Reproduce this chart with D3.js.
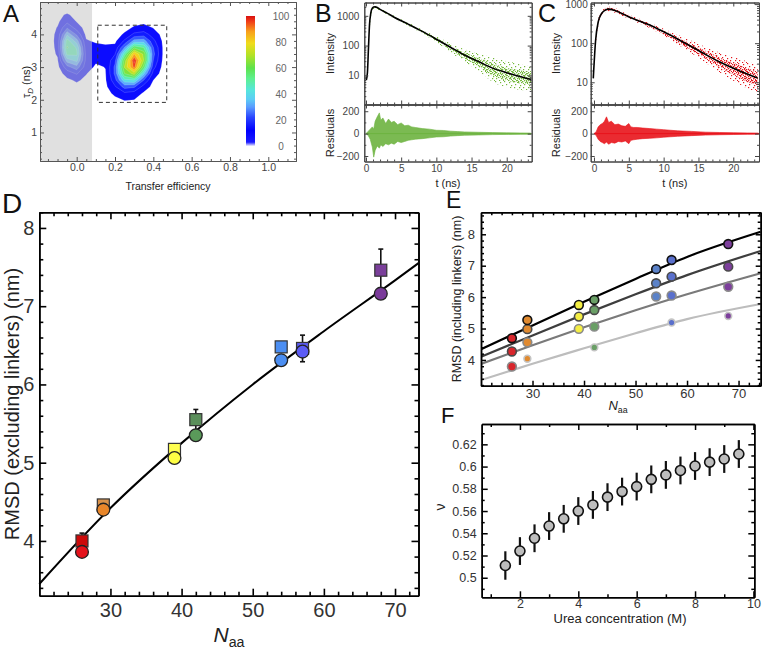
<!DOCTYPE html>
<html><head><meta charset="utf-8">
<script src="https://cdn.jsdelivr.net/npm/d3@7/dist/d3.min.js"></script>
<style>html,body{margin:0;padding:0;background:#fff;}svg{display:block;}</style>
</head><body>
<svg id="fig" width="762" height="650" xmlns="http://www.w3.org/2000/svg"></svg>
<script>
const FONT = "'Liberation Sans', Arial, Helvetica, sans-serif";

// ===================== DATA =====================
// Panel A: 2D histogram (transfer efficiency vs donor lifetime)
const aEcols = [-0.20,-0.15,-0.10,-0.05,0.00,0.05,0.10,0.15,0.20,0.25,0.30,0.35,0.40,0.45,0.50,0.55,0.60];
const aTauRows = [4.8,4.6,4.4,4.2,4.0,3.8,3.6,3.4,3.2,3.0,2.8,2.6,2.4,2.2,2.0,1.8,1.6];
const aGrid = [
 [0,0,0,0,0,0,0,0,0,0,0,0,0,0,0,0,0],
 [0,0,2.0,5.0,1.5,0,0,0,0,0,0.3,0.5,0.3,0,0,0,0],
 [0,0,2.5,9.5,3.5,0.2,0,0,0,0.5,1.4,2.1,1.4,0.3,0,0,0],
 [0,0,4.5,19.2,8.6,0.7,0,0,0.2,1.6,5.0,6.5,3.8,0.8,0,0,0],
 [0,0,6.0,34.2,18.6,1.9,0,0,0.8,5.2,14.0,16.1,8.2,1.8,0,0,0],
 [0,0,6.5,48.2,32.0,4.8,3.0,2.0,2.5,13.5,31.0,32.0,14.2,2.8,0.2,0,0],
 [0,0,6.0,53.2,42.9,6.7,6.0,5.6,6.1,28.4,57.8,51.5,20.2,3.4,0.3,0,0],
 [0,0,5.0,46.3,45.6,8.6,6.0,5.2,11.6,47.5,84.6,66.0,22.5,3.4,0.3,0,0],
 [0,0,3.0,31.7,38.0,8.8,5.0,5.2,17.8,63.4,99.0,67.7,19.8,2.7,0,0,0],
 [0,0,1.5,17.1,24.9,7.0,3.0,4.2,22.0,69.0,94.4,56.5,14.8,1.7,0,0,0],
 [0,0,0.5,7.2,12.8,4.4,0.2,3.5,21.8,59.7,71.6,37.6,8.7,0.9,0,0,0],
 [0,0,0,2.4,5.2,2.2,0,3.1,17.2,41.3,43.4,20.0,4.0,0.4,0,0,0],
 [0,0,0,0.3,1.7,0.3,0,2.3,11.1,23.4,21.6,8.7,1.5,0,0,0,0],
 [0,0,0,0,0,0,0,1.3,5.7,10.5,8.5,3.0,0.5,0,0,0,0],
 [0,0,0,0,0,0,0,0.3,2.3,4.5,4.0,0.8,0,0,0,0,0],
 [0,0,0,0,0,0,0,0,0.2,1.2,1.5,0.3,0,0,0,0,0],
 [0,0,0,0,0,0,0,0,0,0,0,0,0,0,0,0,0]
];
const aLevels = [4,12,20,28,36,44,52,60,68,76,84,92,97];
const aXTicks = [0,0.2,0.4,0.6,0.8,1.0];
const aYTicks = [1,2,3,4];
const aCbTicks = [0,20,40,60,80,100];
const aShadeMax = 0.08;
const aBox = [0.11,0.47,1.92,4.28];
const cmapVals = [0,3,12,22,30,36,43,52,60,70,79,88,96,100];
const cmapCols = ["#f2f0ff","#1a1aff","#0000ff","#2a45ff","#5a9cff","#5ccdf5","#56e6dc","#5ef08e","#5ee24c","#b4e226","#f0dc1c","#f8a01c","#f03a18","#d81010"];

// Panel B: decay (green)
const bFitT = [0.05,0.2,0.35,0.5,0.7,0.9,1.1,1.3,1.6,2,3,4,6,8,10,12,14,16,18,20,22,23.5];
const bFitI = [7,12,80,500,1300,1800,1980,2000,1900,1650,1230,900,525,300,164,88,48,29,17.5,12.3,9,7.3];
const bEnvT  = [0.5,0.9,1.3,2,3,4,6,8,10,12,14,16,18,20,22,23.5];
const bEnvHi = [500,1950,2250,1800,1370,1000,600,350,205,120,75,55,40,30,24,20];
const bEnvLo = [300,1450,1800,1450,1100,800,460,255,128,60,28,14,6,4,3.2,3];
const bResT  = [0,0.3,0.6,0.9,1.1,1.3,1.6,1.9,2.1,2.4,2.8,3.2,3.6,4.0,4.5,5.0,5.5,6,6.5,7,8,9,10,11,12,13,14,16,18,20,22,23.4];
const bResHi = [0,20,40,60,40,110,150,185,120,140,90,130,100,110,80,95,70,75,60,55,45,40,30,28,22,18,15,12,9,7,6,5];
const bResLo = [0,-15,-50,-120,-210,-150,-110,-130,-100,-115,-90,-100,-85,-95,-70,-80,-70,-60,-55,-50,-45,-38,-30,-28,-22,-18,-15,-12,-9,-7,-6,-5];

// Panel C: decay (red)
const cFitT = [-0.1,0.24,0.62,1.0,1.34,2.05,3,4,4.9,6,8.3,10.7,13.1,15.5,17.9,20.5,23.5];
const cFitI = [12.6,121,357,540,647,745,690,575,480,400,277,170,100,58,34,21,12.8];
const cEnvT  = [0.3,0.7,1.2,2,3,4,6,8,10,12,14,16,18,20,22,23.5];
const cEnvHi = [200,480,700,860,790,650,455,335,235,165,115,80,58,45,34,28];
const cEnvLo = [100,330,530,650,600,505,350,245,155,92,55,32,18,11,7,5.5];
const cResT  = [0,0.3,0.6,0.9,1.2,1.5,1.8,2.1,2.5,3,3.5,4,4.5,5,5.3,5.7,6.2,7,8,9,10,11,12,14,16,18,20,22,23.6];
const cResHi = [0,15,60,80,90,110,150,100,110,80,85,70,65,90,60,55,55,50,45,40,35,30,25,20,13,10,8,6,5];
const cResLo = [0,-15,-50,-70,-80,-90,-75,-95,-80,-85,-70,-75,-65,-90,-60,-55,-50,-45,-42,-38,-32,-28,-24,-18,-13,-10,-8,-6,-5];

// Panel D
const dN = [26,29,39,42,54,57,68];
const dSquare = [4.00,4.46,5.17,5.55,6.48,6.46,7.46];
const dErr    = [0.10,0.05,0.03,0.13,0.04,0.17,0.27];
const dCircle = [3.86,4.40,5.06,5.35,6.31,6.42,7.16];
const dSqCol  = ["#cc0a0a","#d9924a","#ffff50","#5b8f5b","#4b8ef2","#5a5af0","#7a3f9a"];
const dCiCol  = ["#e5121b","#e8862a","#ffff44","#5a9a5a","#4b8ef2","#5c5cf5","#7a3a9a"];
const dFitN = [20,30,40,50,60,70,73.3];
const dFitR = [3.45,4.42,5.25,6.00,6.68,7.33,7.55];

// Panel E
const eN = [26,29,39,42,54,57,68];
const eCol = ["#d8262c","#e08a30","#f4ee44","#6a9f66","#5b82c8","#5a70cc","#7d3f9c"];
const eS1 = [4.69,5.27,5.75,5.91,6.89,7.18,7.69];
const eS2 = [4.27,4.98,5.38,5.59,6.44,6.65,6.97];
const eS3 = [3.79,4.56,4.99,5.06,6.02,6.05,6.33];
const eS4 = [null,4.04,null,4.40,null,5.19,5.40];
const eLineN = [20,30,40,50,60,74.3];
const eL1 = [4.34,5.10,5.85,6.58,7.28,8.08];
const eL2 = [4.10,4.78,5.45,6.09,6.70,7.47];
const eL3 = [3.87,4.47,5.04,5.58,6.09,6.76];
const eL4 = [3.36,3.88,4.37,4.85,5.30,5.78];

// Panel F
const fUrea = [1.5,2,2.5,3,3.5,4,4.5,5,5.5,6,6.5,7,7.5,8,8.5,9,9.5];
const fNu   = [0.511,0.524,0.5355,0.5465,0.553,0.560,0.5655,0.5725,0.5775,0.582,0.5885,0.5925,0.5965,0.6005,0.604,0.6068,0.6113];
const fErr  = [0.0128,0.0125,0.0125,0.0125,0.0125,0.0125,0.0125,0.0125,0.0125,0.0125,0.0125,0.0125,0.0125,0.0125,0.0125,0.0125,0.0125];

// ===================== HELPERS =====================
const svg = d3.select("#fig");
const defs = svg.append("defs");

function axes(g, x, y, o) {
  const [xl, xr] = x.range(), [yb, yt] = y.range();
  const stroke = o.stroke || "#000", sw = o.sw || 1;
  const style = sel => {
    sel.select(".domain").attr("stroke", stroke).attr("stroke-width", sw);
    sel.selectAll(".tick line").attr("stroke", stroke).attr("stroke-width", o.tw || sw);
    sel.selectAll(".tick text").attr("font-family", FONT).attr("font-size", o.fs).attr("fill", o.tc || "#333");
  };
  const sides = [
    [d3.axisBottom, x, 0, yb, o.xMaj, o.xMin, o.xFmt, o.xPad, o.bottomLabels !== false],
    [d3.axisTop, x, 0, yt, o.xMaj, o.xMin, null, 0, false],
    [d3.axisLeft, y, xl, 0, o.yMaj, o.yMin, o.yFmt, o.yPad, true],
    [d3.axisRight, y, xr, 0, o.yMaj, o.yMin, null, 0, false]
  ];
  for (const [fn, s, tx, ty, maj, min, fmt, pad, lab] of sides) {
    if (min && min.length) g.append("g").attr("transform", `translate(${tx},${ty})`)
      .call(fn(s).tickValues(min).tickSize(-o.minLen).tickSizeOuter(0).tickFormat("")).call(style);
    g.append("g").attr("transform", `translate(${tx},${ty})`)
      .call(fn(s).tickValues(maj).tickSize(-o.majLen).tickSizeOuter(0).tickPadding(pad || 3).tickFormat(lab ? fmt : "")).call(style);
  }
}
function txt(g, x, y, s, size, opt = {}) {
  const t = g.append("text").attr("x", x).attr("y", y).attr("font-family", FONT).attr("font-size", size)
    .attr("fill", opt.fill || "#222").attr("text-anchor", opt.anchor || "start").text(s);
  if (opt.rotate) t.attr("transform", `rotate(-90,${x},${y})`);
  if (opt.italic) t.attr("font-style", "italic");
  return t;
}
function naaLabel(g, x, y, size) {
  const t = g.append("text").attr("x", x).attr("y", y).attr("font-family", FONT).attr("font-size", size)
    .attr("fill", "#222").attr("text-anchor", "middle");
  t.append("tspan").attr("font-style", "italic").text("N");
  t.append("tspan").attr("font-size", size * 0.68).attr("dy", size * 0.25).text("aa");
}
function dotPattern(id, color, size, pts, d) {
  const p = defs.append("pattern").attr("id", id).attr("patternUnits", "userSpaceOnUse").attr("width", size).attr("height", size);
  pts.forEach(([a, b]) => p.append("rect").attr("x", a).attr("y", b).attr("width", d).attr("height", d).attr("fill", color));
}
const range = (a, b, s) => d3.range(a, b + s / 2, s).map(v => +v.toFixed(6));

// ===================== PANEL A =====================
(function () {
  const g = svg.append("g");
  const x = d3.scaleLinear([-0.1915, 1.1446], [40, 296]);
  const y = d3.scaleLinear([0.128, 4.99], [161, 2]);
  const cmap = d3.scaleLinear(cmapVals, cmapCols).clamp(true);
  defs.append("clipPath").attr("id", "clipA").append("rect").attr("x", 40).attr("y", 2).attr("width", 256).attr("height", 159);
  const nx = aEcols.length, ny = aTauRows.length;
  const dE = aEcols[1] - aEcols[0], dT = aTauRows[0] - aTauRows[1];
  const cs = d3.contours().size([nx, ny]).thresholds(aLevels)(aGrid.flat());
  const toPath = mp => mp.coordinates.map(poly => poly.map(ring =>
      "M" + ring.map(([px, py]) => [x(aEcols[0] + (px - 0.5) * dE).toFixed(2), y(aTauRows[0] - (py - 0.5) * dT).toFixed(2)].join(",")).join("L") + "Z").join("")).join("");
  const cg = g.append("g").attr("clip-path", "url(#clipA)");
  cg.selectAll("path").data(cs).join("path").attr("d", toPath)
    .attr("fill", d => cmap(d.value + 4)).attr("stroke", "rgba(255,255,255,0.35)").attr("stroke-width", 0.5);
  g.append("rect").attr("x", 40).attr("y", 2).attr("width", x(aShadeMax) - 40).attr("height", 159)
    .attr("fill", "#c6c6c6").attr("fill-opacity", 0.54);
  g.append("rect").attr("x", x(aBox[0])).attr("y", y(aBox[3])).attr("width", x(aBox[1]) - x(aBox[0]))
    .attr("height", y(aBox[2]) - y(aBox[3])).attr("fill", "none").attr("stroke", "#333").attr("stroke-width", 1).attr("stroke-dasharray", "4,3");
  const cbY = d3.scaleLinear([0, 100], [146, 16]);
  const grad = defs.append("linearGradient").attr("id", "cbgrad").attr("x1", 0).attr("y1", 1).attr("x2", 0).attr("y2", 0);
  cmapVals.forEach((v, i) => grad.append("stop").attr("offset", v / 100).attr("stop-color", cmapCols[i]));
  g.append("rect").attr("x", 246).attr("y", cbY(100)).attr("width", 9).attr("height", cbY(0) - cbY(100)).attr("fill", "url(#cbgrad)");
  aCbTicks.forEach(v => txt(g, 281, cbY(v) + 3.5, String(v), 10, { anchor: "middle", fill: "#666" }));
  axes(g, x, y, { xMaj: aXTicks, xMin: range(-0.15, 1.1, 0.05).filter(v => Math.abs(Math.round(v * 5) - v * 5) > 1e-6),
    yMaj: aYTicks, yMin: range(0.2, 4.8, 0.2).filter(v => Math.abs(v - Math.round(v)) > 1e-6),
    xFmt: d3.format(".1f"), yFmt: d3.format("d"), majLen: 4, minLen: 2, fs: 10.5, xPad: 3, yPad: 3,
    stroke: "#555", sw: 1, tc: "#444" });
  txt(g, 168, 190, "Transfer efficiency", 10.5, { anchor: "middle" });
  const yl = g.append("text").attr("x", 30).attr("y", 82).attr("font-family", FONT).attr("font-size", 11).attr("fill", "#222")
    .attr("text-anchor", "middle").attr("transform", "rotate(-90,30,82)");
  yl.append("tspan").text("\u03C4");
  yl.append("tspan").attr("font-size", 8).attr("font-style", "italic").attr("dy", 3).text("D");
  yl.append("tspan").attr("dy", -3).text(" (ns)");
  txt(g, 3, 22, "A", 24, { fill: "#111" });
})();

// ===================== PANELS B & C =====================
function decayPanel(o) {
  const g = svg.append("g");
  const x = d3.scaleLinear(o.xDom, [o.x0, o.x1]);
  const yI = d3.scaleLog(o.iDom, [o.yMid, o.yTop]);
  const yR = d3.scaleLinear([-249, 260], [o.yBot, o.yMid]);
  const cid = "clip" + o.id;
  defs.append("clipPath").attr("id", cid).append("rect").attr("x", o.x0).attr("y", o.yTop).attr("width", o.x1 - o.x0).attr("height", o.yMid - o.yTop);
  dotPattern(o.id + "s", o.dot, 9, [[0,0],[5,1],[2,3],[7,4],[1,6],[6,6],[4,8],[8,8]], 1.2);
  dotPattern(o.id + "d", o.dot, 4, [[0,0],[2,1],[1,2],[3,3]], 1.3);
  const env = o.envT.map((t, i) => ({ t, hi: o.envHi[i], lo: o.envLo[i] }));
  const inner = env.map(d => ({ t: d.t, hi: Math.pow(d.hi, 0.75) * Math.pow(d.lo, 0.25), lo: Math.pow(d.hi, 0.25) * Math.pow(d.lo, 0.75) }));
  const area = d3.area().x(d => x(d.t)).y0(d => yI(d.lo)).y1(d => yI(d.hi)).curve(d3.curveMonotoneX);
  const pg = g.append("g").attr("clip-path", `url(#${cid})`);
  pg.append("path").datum(env).attr("d", area).attr("fill", `url(#${o.id}s)`);
  pg.append("path").datum(inner).attr("d", area).attr("fill", `url(#${o.id}d)`);
  pg.append("path").datum(o.fitT.map((t, i) => [t, o.fitI[i]]))
    .attr("d", d3.line().x(d => x(d[0])).y(d => yI(d[1])).curve(d3.curveMonotoneX))
    .attr("fill", "none").attr("stroke", "#000").attr("stroke-width", 1.6);
  const res = o.resT.map((t, i) => ({ t, hi: o.resHi[i], lo: o.resLo[i] }));
  g.append("path").datum(res).attr("d", d3.area().x(d => x(d.t)).y0(d => yR(d.lo)).y1(d => yR(d.hi)))
    .attr("fill", o.res).attr("fill-opacity", 0.9).attr("stroke", o.res).attr("stroke-width", 0.6);
  g.append("line").attr("x1", x(o.resT[0])).attr("x2", o.x1).attr("y1", yR(0)).attr("y2", yR(0)).attr("stroke", o.res).attr("stroke-width", 1);
  const xMin = range(1, 23, 1).filter(v => v % 5 !== 0);
  const logMin = [];
  [1, 10, 100, 1000].forEach(b => [2, 3, 4, 5, 6, 7, 8, 9].forEach(k => { const v = k * b; if (v > o.iDom[0] && v < o.iDom[1]) logMin.push(v); }));
  const common = { xMaj: [0, 5, 10, 15, 20], xMin, majLen: 4, minLen: 2, fs: 10, stroke: "#444", sw: 1, tc: "#444" };
  axes(g, x, yI, Object.assign({}, common, { bottomLabels: false, yMaj: [10, 100, 1000], yMin: logMin, yFmt: d3.format("d"), yPad: o.yPad }));
  axes(g, x, yR, Object.assign({}, common, { yMaj: [-200, 0, 200], yMin: [-100, 100], yFmt: d3.format("d"), yPad: o.yPad, xFmt: d3.format("d"), xPad: 3 }));
  txt(g, o.labX, (o.yTop + o.yMid) / 2, "Intensity", 11, { anchor: "middle", rotate: true });
  txt(g, o.labX, (o.yMid + o.yBot) / 2, "Residuals", 11, { anchor: "middle", rotate: true });
  txt(g, (o.x0 + o.x1) / 2, 187, "t (ns)", 11, { anchor: "middle" });
  txt(g, o.letterX, 22, o.letter, 25, { fill: "#111" });
}
decayPanel({ id: "B", letter: "B", letterX: 315, x0: 364.3, x1: 531.7, xDom: [-0.24, 23.55], yTop: 2.5, yMid: 104.5, yBot: 161.5,
  iDom: [1.05, 2800], fitT: bFitT, fitI: bFitI, envT: bEnvT, envHi: bEnvHi, envLo: bEnvLo,
  resT: bResT, resHi: bResHi, resLo: bResLo, dot: "#74b83c", res: "#6db33f", labX: 334, yPad: 5 });
decayPanel({ id: "C", letter: "C", letterX: 538, x0: 590.7, x1: 759, xDom: [-0.47, 23.69], yTop: 2.5, yMid: 104.5, yBot: 161.5,
  iDom: [2.7, 1100], fitT: cFitT, fitI: cFitI, envT: cEnvT, envHi: cEnvHi, envLo: cEnvLo,
  resT: cResT, resHi: cResHi, resLo: cResLo, dot: "#e2161c", res: "#e8141b", labX: 560, yPad: 3 });

// ===================== PANEL D =====================
(function () {
  const g = svg.append("g");
  const x = d3.scaleLinear([20, 73.3], [39.3, 418.5]);
  const y = d3.scaleLinear([3.3, 8.2], [595.7, 212.3]);
  g.append("path").datum(dFitN.map((n, i) => [n, dFitR[i]]))
    .attr("d", d3.line().x(d => x(d[0])).y(d => y(d[1])).curve(d3.curveMonotoneX))
    .attr("fill", "none").attr("stroke", "#000").attr("stroke-width", 2);
  dN.forEach((n, i) => {
    const cx = x(n), top = y(dSquare[i] + dErr[i]), bot = y(dSquare[i] - dErr[i]);
    g.append("line").attr("x1", cx).attr("x2", cx).attr("y1", top).attr("y2", bot).attr("stroke", "#111").attr("stroke-width", 1.6);
    [top, bot].forEach(yy => g.append("line").attr("x1", cx - 2.5).attr("x2", cx + 2.5).attr("y1", yy).attr("y2", yy).attr("stroke", "#111").attr("stroke-width", 1.6));
  });
  g.selectAll("rect.sq").data(dN).join("rect").attr("class", "sq")
    .attr("x", d => x(d) - 6).attr("y", (d, i) => y(dSquare[i]) - 6).attr("width", 12).attr("height", 12)
    .attr("fill", (d, i) => dSqCol[i]).attr("stroke", "#333").attr("stroke-width", 1.2);
  g.selectAll("circle.ci").data(dN).join("circle").attr("class", "ci")
    .attr("cx", d => x(d)).attr("cy", (d, i) => y(dCircle[i])).attr("r", 6.4)
    .attr("fill", (d, i) => dCiCol[i]).attr("stroke", "#222").attr("stroke-width", 1.3);
  axes(g, x, y, { xMaj: [30, 40, 50, 60, 70], xMin: range(22, 72, 2).filter(v => v % 10 !== 0),
    yMaj: [4, 5, 6, 7, 8], yMin: range(3.4, 8.2, 0.2).filter(v => Math.abs(v - Math.round(v)) > 1e-6),
    xFmt: d3.format("d"), yFmt: d3.format("d"), majLen: 7, minLen: 4, fs: 20, xPad: 7, yPad: 5, stroke: "#000", sw: 1.6, tc: "#333" });
  txt(g, 19, 404, "RMSD (excluding linkers) (nm)", 20, { anchor: "middle", rotate: true });
  naaLabel(g, 229, 642, 21);
  txt(g, 2, 213, "D", 28, { fill: "#111" });
})();

// ===================== PANEL E =====================
(function () {
  const g = svg.append("g");
  const x = d3.scaleLinear([20, 74.3], [481, 760.7]);
  const y = d3.scaleLinear([3.18, 8.7], [385.7, 212.3]);
  defs.append("clipPath").attr("id", "clipE").append("rect").attr("x", 481).attr("y", 212.3).attr("width", 279.7).attr("height", 173.4);
  const lines = [[eL4, "#bdbdbd"], [eL3, "#7a7a7a"], [eL2, "#3e3e3e"], [eL1, "#000"]];
  const lg = g.append("g").attr("clip-path", "url(#clipE)");
  lines.forEach(([vals, col]) => lg.append("path").datum(eLineN.map((n, i) => [n, vals[i]]))
    .attr("d", d3.line().x(d => x(d[0])).y(d => y(d[1])).curve(d3.curveMonotoneX))
    .attr("fill", "none").attr("stroke", col).attr("stroke-width", 2.2));
  const series = [[eS4, "#c4c4c4", 3.4], [eS3, "#8a8a8a", 4.4], [eS2, "#4a4a4a", 4.4], [eS1, "#111", 4.4]];
  series.forEach(([vals, col, r]) => {
    eN.forEach((n, i) => {
      if (vals[i] == null) return;
      g.append("circle").attr("cx", x(n)).attr("cy", y(vals[i])).attr("r", r)
        .attr("fill", eCol[i]).attr("stroke", col).attr("stroke-width", 1.6);
    });
  });
  axes(g, x, y, { xMaj: [30, 40, 50, 60, 70], xMin: range(22, 74, 2).filter(v => v % 10 !== 0),
    yMaj: [4, 5, 6, 7, 8], yMin: range(3.2, 8.6, 0.2).filter(v => Math.abs(v - Math.round(v)) > 1e-6),
    xFmt: d3.format("d"), yFmt: d3.format("d"), majLen: 5, minLen: 3, fs: 13, xPad: 3, yPad: 6, stroke: "#000", sw: 1.5, tc: "#333" });
  txt(g, 461, 299, "RMSD (including linkers) (nm)", 12.5, { anchor: "middle", rotate: true });
  naaLabel(g, 618, 410, 13);
  txt(g, 446, 208, "E", 23, { fill: "#111" });
})();

// ===================== PANEL F =====================
(function () {
  const g = svg.append("g");
  const x = d3.scaleLinear([0.69, 10.03], [481.7, 754.3]);
  const y = d3.scaleLinear([0.4824, 0.6383], [597.3, 424]);
  fUrea.forEach((u, i) => g.append("line").attr("x1", x(u)).attr("x2", x(u))
    .attr("y1", y(fNu[i] + fErr[i])).attr("y2", y(fNu[i] - fErr[i])).attr("stroke", "#111").attr("stroke-width", 2.2));
  g.selectAll("circle").data(fUrea).join("circle").attr("cx", d => x(d)).attr("cy", (d, i) => y(fNu[i])).attr("r", 5)
    .attr("fill", "#bdbdbd").attr("stroke", "#111").attr("stroke-width", 1.6);
  axes(g, x, y, { xMaj: [2, 4, 6, 8, 10], xMin: [1, 3, 5, 7, 9],
    yMaj: [0.5, 0.52, 0.54, 0.56, 0.58, 0.6, 0.62], yMin: [0.49, 0.51, 0.53, 0.55, 0.57, 0.59, 0.61, 0.63],
    xFmt: d3.format("d"), yFmt: d => String(+d.toFixed(2)), majLen: 6, minLen: 3, fs: 12.5, xPad: 2, yPad: 5, stroke: "#000", sw: 1.5, tc: "#333" });
  txt(g, 445, 507, "\u03BD", 14, { anchor: "middle", rotate: true });
  txt(g, 620, 623, "Urea concentration (M)", 13, { anchor: "middle" });
  txt(g, 441, 423, "F", 22, { fill: "#111" });
})();
</script>
</body></html>
